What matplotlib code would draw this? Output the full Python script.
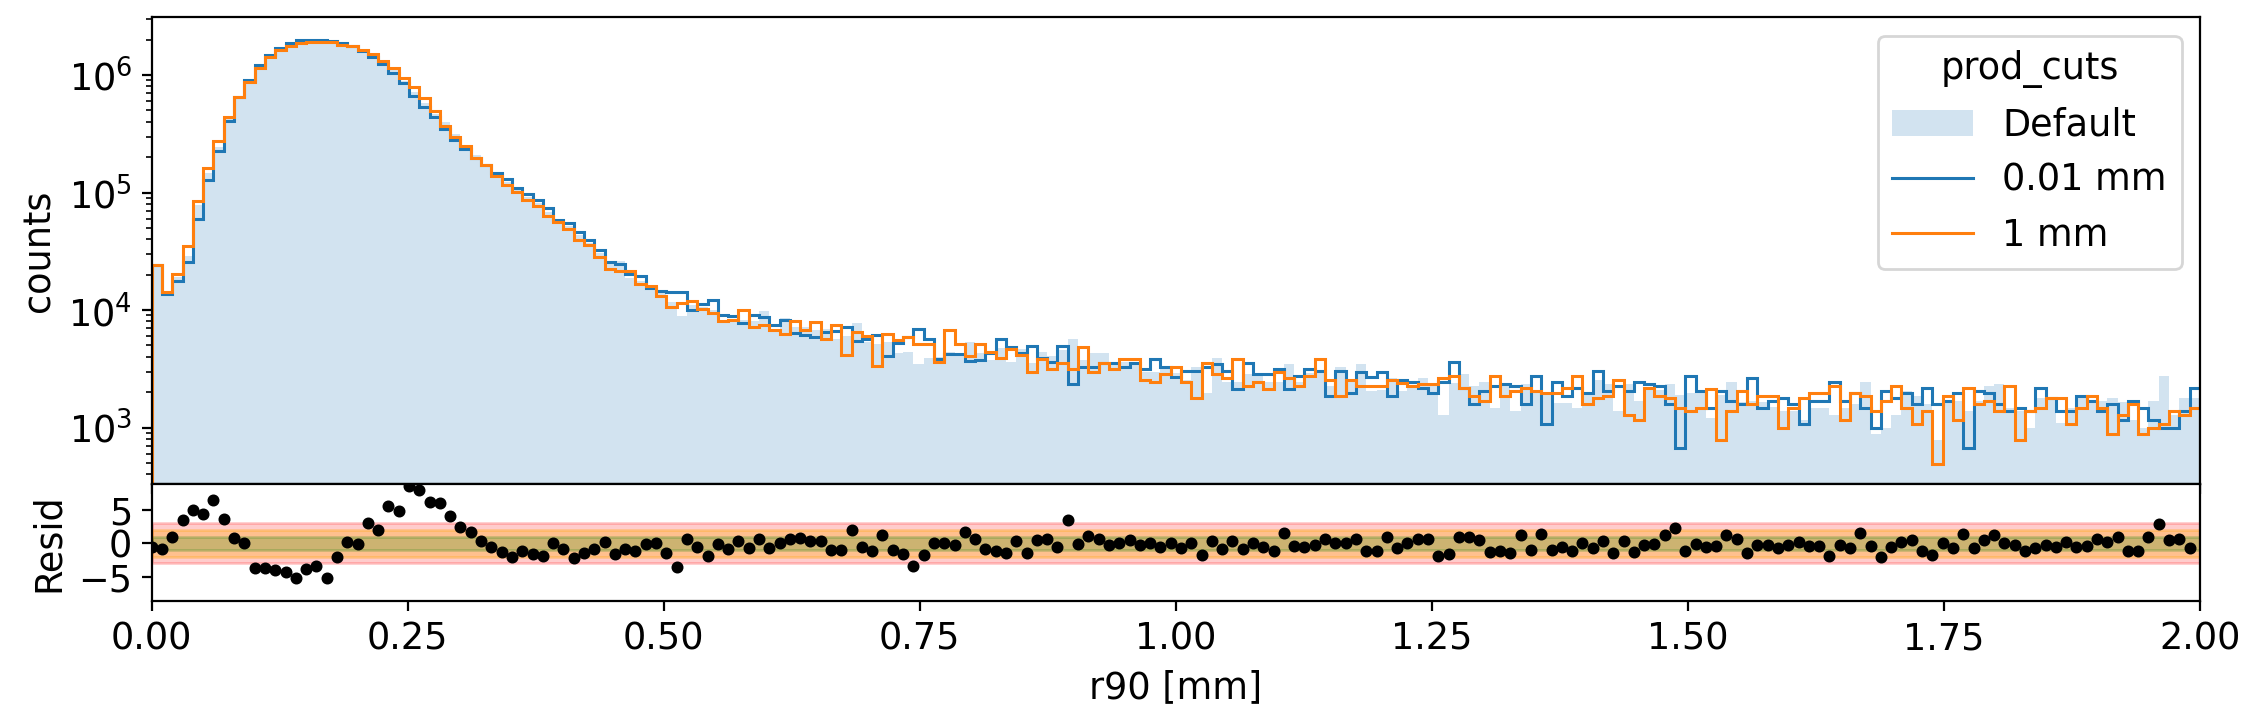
import numpy as np
import matplotlib
matplotlib.use('Agg')
import matplotlib.pyplot as plt

plt.rcParams['font.size'] = 13.2

# binning: 199 bins between 0 and 2 mm
edges = np.linspace(0, 2, 200)

# counts per bin
default_counts = [
    24000, 13100, 19300, 28600, 78500, 146000, 246000, 420000, 650000, 895000,
    1185000, 1460000, 1650000, 1810000, 1920000, 1940000, 1940000, 1930000, 1860000, 1760000,
    1620000, 1470000, 1280000, 1100000, 895000, 721000, 582000, 467000, 401000, 315000,
    241000, 209000, 172000, 144000, 124000, 105000, 92500, 81200, 69000, 57800,
    51900, 43500, 37400, 30300, 26300, 26300, 18600, 17700, 15000, 13900,
    11800, 8890, 11000, 10700, 10100, 8220, 7900, 8220, 8110, 9790,
    6850, 8490, 7120, 7120, 6760, 6850, 5660, 6010, 7710, 5310,
    5100, 5310, 4330, 4400, 3470, 3900, 4000, 4360, 4290, 5310,
    4280, 3760, 4720, 3640, 4660, 3520, 4370, 4060, 4570, 5630,
    3760, 4280, 4280, 3410, 3640, 3410, 2990, 2990, 3260, 2930,
    2540, 3300, 1980, 3880, 2460, 2420, 2850, 2930, 2460, 2420,
    3470, 2420, 2890, 2890, 2270, 3260, 2540, 3470, 2060, 2080,
    2620, 2060, 2300, 2620, 2380, 1290, 2380, 2850, 2250, 2420,
    1480, 2250, 1390, 2330, 1950, 1890, 1610, 1610, 1480, 1950,
    2540, 2350, 1390, 2350, 1680, 2080, 2080, 2330, 1890, 1980,
    1980, 1200, 1890, 2420, 1660, 1680, 1660, 1500, 1380, 1380,
    1170, 1460, 1460, 1280, 1460, 1590, 2420, 890, 985, 1280,
    2050, 1850, 1580, 783, 1680, 1680, 1380, 1680, 2250, 2330,
    1460, 1380, 1000, 1770, 1770, 1090, 1460, 1850, 1680, 1680,
    1770, 1660, 1170, 985, 1680, 2740, 1280, 1800, 1800,
]

cut_001_counts = [
    24000, 13800, 17700, 25700, 59800, 128000, 225000, 404000, 650000, 913000,
    1220000, 1490000, 1690000, 1870000, 1970000, 1980000, 1980000, 1960000, 1880000, 1760000,
    1600000, 1430000, 1240000, 1040000, 849000, 667000, 535000, 443000, 348000, 280000,
    235000, 197000, 173000, 147000, 131000, 109000, 97500, 86700, 73600, 58600,
    54700, 45800, 39400, 32400, 25500, 24900, 20400, 19400, 15300, 14500,
    14200, 14200, 9930, 11200, 12200, 9060, 8830, 7750, 9060, 8710,
    7410, 8220, 6330, 6090, 5890, 6540, 6620, 7120, 5450, 5620,
    6090, 4060, 5210, 5850, 6890, 5620, 3830, 4200, 4200, 3700,
    3760, 4350, 5660, 4810, 4280, 4940, 3880, 3590, 4940, 2330,
    3300, 3300, 3520, 3520, 3300, 3520, 3150, 3810, 3260, 2710,
    3030, 3030, 3300, 3450, 3030, 2150, 3520, 2850, 2840, 3150,
    2150, 2740, 3150, 3050, 1850, 3050, 1950, 2970, 2710, 2970,
    1850, 2540, 2420, 2180, 1950, 2460, 3590, 2180, 1580, 2050,
    2250, 2330, 2250, 1580, 2740, 1070, 2420, 1850, 2180, 1950,
    3030, 2050, 2250, 2050, 2420, 2330, 2250, 1580, 674, 2740,
    2050, 1480, 2050, 1680, 1580, 2660, 1460, 1680, 1800, 1580,
    1070, 1690, 1690, 2420, 1680, 1950, 1460, 985, 2050, 1770,
    1950, 1580, 2180, 1580, 1680, 1950, 674, 2050, 1950, 1580,
    1380, 1460, 1380, 2180, 1770, 1380, 1380, 1850, 1680, 1380,
    1580, 1170, 1680, 1460, 1170, 985, 985, 1380, 2180,
]

cut_1_counts = [
    24000, 14200, 20400, 35200, 84000, 163000, 277000, 437000, 650000, 878000,
    1155000, 1430000, 1620000, 1760000, 1860000, 1910000, 1910000, 1910000, 1820000, 1760000,
    1630000, 1510000, 1320000, 1155000, 945000, 791000, 642000, 498000, 371000, 299000,
    249000, 197000, 170000, 139000, 116000, 102000, 86700, 77100, 63400, 56700,
    48900, 39200, 35700, 28200, 22200, 21500, 21300, 16700, 16000, 13200,
    10600, 11500, 11900, 10200, 9420, 8110, 8220, 10100, 7120, 7410,
    6760, 6250, 8110, 6760, 7960, 5660, 7410, 4110, 6460, 5970,
    3340, 6250, 5560, 5850, 5100, 5100, 3590, 6760, 5100, 4060,
    5100, 4370, 3880, 4660, 4140, 2990, 3830, 3150, 3520, 3130,
    4810, 2990, 3520, 3150, 3830, 3830, 2540, 2420, 2850, 3260,
    2420, 1770, 3520, 2850, 2660, 3830, 2250, 2420, 2150, 2950,
    2660, 2250, 2740, 3830, 2540, 1850, 2540, 2250, 2250, 2250,
    2540, 2380, 2250, 2330, 2330, 2620, 2740, 2180, 1850, 1680,
    2740, 1850, 2050, 2180, 2050, 1950, 1950, 2180, 2740, 1580,
    1770, 1850, 2540, 1280, 1170, 2180, 1850, 1770, 1480, 1380,
    1480, 2150, 783, 1380, 2050, 1580, 1850, 1850, 985, 1460,
    1770, 1950, 1950, 2250, 1170, 1950, 1850, 1380, 1680, 2250,
    1460, 1070, 1380, 486, 1850, 1170, 2180, 1580, 1690, 1380,
    2250, 783, 1380, 1460, 1770, 1770, 1070, 1460, 1850, 1460,
    881, 1280, 1580, 881, 985, 1070, 1380, 1280, 1460,
]

# residual per bin (plotted at the bin's left edge)
resid = [
    -0.5, -0.8, 0.95, 3.5, 5.0, 4.45, 6.45, 3.6, 0.8, 0.0,
    -3.75, -3.75, -4.05, -4.35, -5.25, -3.85, -3.35, -5.25, -2.1, 0.15,
    -0.15, 3.0, 2.0, 5.6, 4.85, 8.6, 7.95, 6.25, 6.1, 4.1,
    2.4, 1.65, 0.4, -0.5, -1.35, -2.1, -1.2, -1.6, -1.9, 0.1,
    -0.9, -2.2, -1.4, -0.8, 0.2, -1.6, -0.8, -1.1, -0.1, 0.1,
    -1.5, -3.5, 0.6, -0.6, -1.9, -0.1, -0.8, 0.3, -0.7, 0.7,
    -0.7, 0.1, 0.6, 0.8, 0.3, 0.3, -1.0, -1.0, 2.0, -0.6,
    -1.1, 1.2, -1.0, -1.6, -3.4, -1.8, 0.1, 0.1, -0.3, 1.7,
    0.6, -0.9, -1.1, -1.4, 0.3, -1.5, 0.5, 0.6, -0.5, 3.5,
    -0.1, 1.1, 0.7, -0.3, 0.1, 0.5, -0.3, 0.1, -0.5, 0.1,
    -0.7, 0.1, -1.8, 0.4, -0.9, 0.3, -0.9, 0.0, -0.5, -1.1,
    1.6, -0.4, -0.5, -0.3, 0.6, 0.1, 0.0, 0.6, -1.1, -1.1,
    1.0, -0.7, 0.0, 0.6, 0.6, -1.9, -1.6, 0.9, 1.0, 0.5,
    -1.3, -1.1, -1.5, 1.2, -1.0, 1.4, -1.0, -0.6, -1.2, 0.1,
    -0.7, 0.4, -1.5, 0.4, -1.3, -0.3, -0.1, 1.2, 2.3, -1.2,
    -0.1, -0.5, -0.4, 1.2, 0.7, -1.5, -0.2, -0.3, -0.7, -0.3,
    0.2, -0.4, -0.4, -1.9, -0.3, -0.7, 1.6, -0.4, -2.1, -0.6,
    0.2, 0.5, -1.1, -1.7, 0.0, -0.7, 1.4, -0.7, 0.5, 1.2,
    0.1, -0.2, -1.1, -0.7, -0.2, -0.6, 0.2, -0.6, -0.4, 0.6,
    0.2, 0.9, -1.1, -1.2, 1.0, 2.9, 0.5, 0.6, -0.7,
]

fig = plt.figure(figsize=(2261 / 200, 725 / 200), dpi=200)
ax = fig.add_axes([0.0671, 0.3320, 0.9059, 0.6441])
rax = fig.add_axes([0.0671, 0.1706, 0.9059, 0.1614], sharex=ax)

# top: histograms
ax.stairs(default_counts, edges, fill=True, color='C0', alpha=0.2, baseline=1, label='Default')
ax.stairs(cut_001_counts, edges, color='C0', lw=1.1, baseline=1, label='0.01 mm')
ax.stairs(cut_1_counts, edges, color='C1', lw=1.1, baseline=1, label='1 mm')
ax.set_yscale('log')
ax.set_ylim(329, 3.1e6)
ax.set_xlim(0, 2)
ax.set_ylabel('counts')
ax.tick_params(labelbottom=False)
ax.legend(title='prod_cuts', loc='upper right', handlelength=2.2)

# bottom: residuals with 1/2/3 sigma bands
rax.fill_between([0, 2], -3, 3, color='red', alpha=0.2)
rax.fill_between([0, 2], -2, 2, color='orange', alpha=0.3)
rax.fill_between([0, 2], -1, 1, color='green', alpha=0.2)
rax.scatter(edges[:-1], resid, s=11, color='black', zorder=3)
rax.set_ylim(-8.7, 8.85)
rax.set_yticks([-5, 0, 5])
rax.set_xticks(np.arange(0, 2.01, 0.25))
rax.set_ylabel('Resid')
rax.set_xlabel('r90 [mm]')

fig.savefig('out.png', dpi=200)
